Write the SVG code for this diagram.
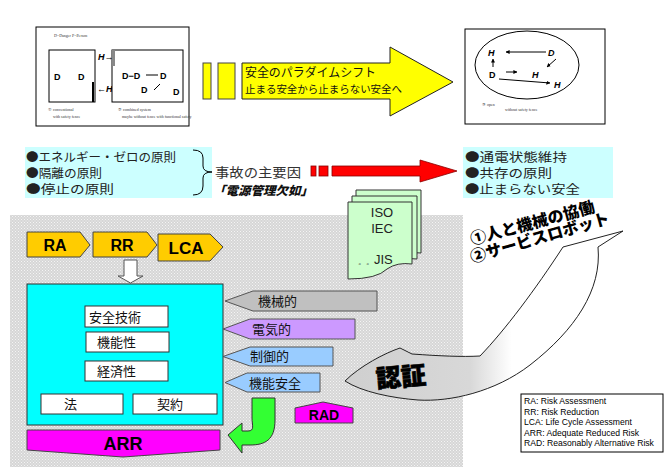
<svg xmlns="http://www.w3.org/2000/svg" width="671" height="467" viewBox="0 0 671 467">
<defs>
<pattern id="dots" width="3" height="3" patternUnits="userSpaceOnUse">
<rect width="3" height="3" fill="#d6d6d6"/>
<rect x="0" y="0" width="1" height="1" fill="#f4f4f4"/>
<rect x="1.5" y="1.5" width="1" height="1" fill="#f4f4f4"/>
</pattern>
<linearGradient id="certg" x1="0" y1="0" x2="1" y2="0">
<stop offset="0" stop-color="#cfcfcf"/>
<stop offset="0.45" stop-color="#d8d8d8"/>
<stop offset="0.6" stop-color="#ffffff"/>
</linearGradient>
<marker id="ah" viewBox="0 0 10 10" refX="9" refY="5" markerWidth="4" markerHeight="4" orient="auto">
<path d="M0,0 L10,5 L0,10 Z" fill="#000"/>
</marker>
<style>
.jp{font-family:"Noto Sans CJK JP","Noto Sans CJK SC",sans-serif;}
.ar{font-family:"Liberation Sans",Arial,sans-serif;}
.tiny{font-family:"Liberation Serif",serif;font-size:4px;fill:#333;}
.dh{font-family:"Liberation Sans",Arial,sans-serif;font-size:9px;font-weight:bold;}
.hi{font-family:"Liberation Sans",Arial,sans-serif;font-size:9px;font-weight:bold;font-style:italic;}
.ln{stroke:#000;stroke-width:1;fill:none;}
.box{fill:#fff;stroke:#000;stroke-width:1;}
.cy{fill:#ccffff;}
.li{font-size:12px;fill:#222;}
.wb{fill:#fff;stroke:#333;stroke-width:1;}
.wt{font-size:13px;fill:#111;}
.lg{font-size:8.6px;fill:#000;}
</style>
</defs>
<rect x="0" y="0" width="671" height="467" fill="#fff"/>
<!-- gray dotted region -->
<rect x="10" y="215" width="453" height="252" fill="url(#dots)"/>

<!-- top-left figure -->
<g id="fig-conventional">
<rect class="box" x="36" y="27" width="153" height="99"/>
<text class="tiny" x="54" y="37">D=Danger    P=Person</text>
<rect class="box" x="49" y="50" width="46" height="52"/>
<text class="dh" x="54" y="80">D</text>
<text class="dh" x="78" y="80">D</text>
<rect x="92" y="82" width="2" height="20" fill="#000"/>
<text class="hi" x="98" y="60">H→</text>
<text class="hi" x="97" y="92">←H</text>
<rect class="box" x="112" y="50" width="71" height="52"/>
<rect x="112" y="50" width="3" height="16" fill="#888"/>
<text class="dh" x="122" y="79">D−D</text>
<line class="ln" x1="146" y1="75" x2="158" y2="75"/>
<text class="dh" x="160" y="79">D</text>
<text class="dh" x="141" y="93">D</text>
<line class="ln" x1="154" y1="90" x2="160" y2="84"/>
<text class="dh" x="173" y="95">D</text>
<text class="tiny" x="48" y="111">① conventional</text>
<text class="tiny" x="53" y="118">with safety fence</text>
<text class="tiny" x="118" y="111">② combined system</text>
<text class="tiny" x="122" y="118">maybe without fence with functional safety</text>
</g>

<!-- yellow arrow -->
<g id="paradigm-arrow">
<rect x="203" y="63" width="8" height="36" fill="#ffff00" stroke="#444" stroke-width="1"/>
<rect x="218" y="63" width="17" height="36" fill="#ffff00" stroke="#444" stroke-width="1"/>
<path d="M242,63 L390,63 L390,47 L453,82 L390,116 L390,99 L242,99 Z" fill="#ffff00" stroke="#222" stroke-width="1"/>
<text class="jp" x="245" y="77" font-size="12" fill="#111" textLength="131" lengthAdjust="spacingAndGlyphs">安全のパラダイムシフト</text>
<text class="jp" x="245" y="93" font-size="10.5" fill="#111" textLength="157" lengthAdjust="spacingAndGlyphs">止まる安全から止まらない安全へ</text>
</g>

<!-- top-right figure -->
<g id="fig-open">
<rect class="box" x="465" y="29" width="140" height="95"/>
<ellipse cx="527" cy="65" rx="52" ry="34" class="ln"/>
<text class="hi" x="488" y="56">H</text>
<text class="hi" x="548" y="56">D</text>
<line class="ln" x1="546" y1="52" x2="506" y2="52" marker-end="url(#ah)"/>
<line class="ln" x1="493" y1="67" x2="493" y2="59" marker-end="url(#ah)"/>
<text class="dh" x="489" y="78">D</text>
<line class="ln" x1="506" y1="72" x2="517" y2="72" marker-end="url(#ah)"/>
<text class="hi" x="532" y="78">H</text>
<line class="ln" x1="556" y1="59" x2="547" y2="67" marker-end="url(#ah)"/>
<line class="ln" x1="499" y1="79" x2="550" y2="83" marker-end="url(#ah)"/>
<text class="hi" x="554" y="88">H</text>
<text class="tiny" x="482" y="106">③ open</text>
<text class="tiny" x="505" y="111">without safety fence</text>
</g>

<!-- principles left -->
<g id="principles-left">
<rect class="cy" x="25" y="147" width="187" height="51"/>
<text class="jp li" x="26" y="162" textLength="150" lengthAdjust="spacingAndGlyphs">●エネルギー・ゼロの原則</text>
<text class="jp li" x="26" y="178" textLength="76" lengthAdjust="spacingAndGlyphs">●隔離の原則</text>
<text class="jp li" x="26" y="194" textLength="88" lengthAdjust="spacingAndGlyphs">●停止の原則</text>
<path d="M193,150 Q203,150 203,158 L203,166 Q203,172 212,172 Q203,172 203,178 L203,186 Q203,195 193,195" class="ln" stroke="#333"/>
<text class="jp" x="215" y="177" font-size="13" fill="#333" textLength="86" lengthAdjust="spacingAndGlyphs">事故の主要因</text>
<text class="jp" x="213" y="195" font-size="12" font-weight="900" font-style="italic" fill="#111" textLength="100" lengthAdjust="spacingAndGlyphs">「電源管理欠如」</text>
</g>

<!-- red arrow -->
<g id="red-arrow">
<rect x="311" y="166" width="5" height="10" fill="#ff0000" stroke="#800" stroke-width="0.8"/>
<rect x="319" y="166" width="9" height="10" fill="#ff0000" stroke="#800" stroke-width="0.8"/>
<path d="M332,166 L420,166 L420,160 L457,171 L420,182 L420,176 L332,176 Z" fill="#ff0000" stroke="#800" stroke-width="0.8"/>
</g>

<!-- principles right -->
<g id="principles-right">
<rect class="cy" x="463" y="147" width="150" height="51"/>
<text class="jp li" x="465" y="162" textLength="102" lengthAdjust="spacingAndGlyphs">●通電状態維持</text>
<text class="jp li" x="465" y="178" textLength="87" lengthAdjust="spacingAndGlyphs">●共存の原則</text>
<text class="jp li" x="465" y="194" textLength="115" lengthAdjust="spacingAndGlyphs">●止まらない安全</text>
</g>

<!-- standards -->
<g id="standards">
<path d="M356,190 L421,190 L421,253 Q405,251 395,258 Q385,268 356,268 Z" fill="#ccffcc" stroke="#333" stroke-width="1"/>
<path d="M352,196 L417,196 L417,259 Q401,257 391,264 Q381,274 352,274 Z" fill="#ccffcc" stroke="#333" stroke-width="1"/>
<path d="M348,202 L412,202 L412,264 Q397,262 387,269 Q377,279 348,279 Z" fill="#ccffcc" stroke="#333" stroke-width="1"/>
<text class="ar" x="382" y="217" font-size="13" text-anchor="middle" fill="#222">ISO</text>
<text class="ar" x="382" y="233" font-size="13" text-anchor="middle" fill="#222">IEC</text>
<text class="ar" x="358" y="264" font-size="13" fill="#222"><tspan font-size="8">。。</tspan>JIS</text>
</g>

<!-- certification arrow -->
<g id="certification">
<path d="M345,381 C360,366 385,353 400,348 L412,354 C440,356 462,357 480,356 C505,330 535,290 563,247 L623,231 L598,247 C602,290 575,330 530,365 C495,392 450,402 418,400 C392,398 362,392 345,381 Z" fill="url(#certg)" stroke="#222" stroke-width="1"/>
<text class="jp" x="376" y="386" font-size="25" font-weight="900" fill="#000" stroke="#000" stroke-width="0.6" transform="rotate(-5 400 378)">認証</text>
</g>

<!-- collaboration text -->
<g id="collab-text">
<text class="jp" x="472" y="245" font-size="16" font-weight="900" fill="#000" transform="rotate(-15 472 245)">①人と機械の協働</text>
<text class="jp" x="472" y="263" font-size="16" font-weight="900" fill="#000" transform="rotate(-16 472 263)">②サービスロボット</text>
</g>

<!-- RA RR LCA -->
<g id="ra">
<path d="M27,232 L80,232 L90,245 L80,257 L27,257 Z" fill="#ffcc00" stroke="#444" stroke-width="1"/>
<text class="ar" x="55" y="251" font-size="16" font-weight="bold" text-anchor="middle">RA</text>
</g>
<g id="rr">
<path d="M93,232 L147,232 L157,245 L147,257 L93,257 Z" fill="#ffcc00" stroke="#444" stroke-width="1"/>
<text class="ar" x="122" y="251" font-size="16" font-weight="bold" text-anchor="middle">RR</text>
</g>
<g id="lca">
<path d="M158,234 L210,234 L223,247 L210,261 L158,261 Z" fill="#ffcc00" stroke="#444" stroke-width="1"/>
<text class="ar" x="186" y="254" font-size="17" font-weight="bold" text-anchor="middle">LCA</text>
</g>
<g id="down-arrow">
<path d="M124,260 L137,260 L137,276 L143,276 L130.5,283 L118,276 L124,276 Z" fill="#fff" stroke="#555" stroke-width="1"/>
</g>

<!-- main cyan box -->
<g id="measures">
<rect x="27" y="284" width="196" height="141" fill="#00ffff" stroke="#333" stroke-width="1"/>
<rect class="wb" x="85" y="306" width="83" height="21"/>
<text class="jp wt" x="89" y="322">安全技術</text>
<rect class="wb" x="86" y="332" width="83" height="20"/>
<text class="jp wt" x="97" y="347">機能性</text>
<rect class="wb" x="85" y="361" width="83" height="20"/>
<text class="jp wt" x="97" y="376">経済性</text>
<rect class="wb" x="41" y="394" width="82" height="20"/>
<text class="jp wt" x="64" y="409">法</text>
<rect class="wb" x="133" y="394" width="84" height="20"/>
<text class="jp wt" x="157" y="409">契約</text>
</g>

<!-- ARR -->
<g id="arr">
<path d="M27,430 L220,430 L220,450 L123,457 L27,450 Z" fill="#ff00ff" stroke="#444" stroke-width="1"/>
<text class="ar" x="123" y="450" font-size="18" font-weight="bold" text-anchor="middle">ARR</text>
</g>

<!-- left-pointing arrows -->
<g id="mechanical">
<path d="M377,291 L253,291 L225,301 L253,311 L377,311 Z" fill="#c0c0c0" stroke="#555" stroke-width="1"/>
<text class="jp wt" x="258" y="306">機械的</text>
</g>
<g id="electrical">
<path d="M355,319 L250,319 L223,329 L250,339 L355,339 Z" fill="#cc99ff" stroke="#555" stroke-width="1"/>
<text class="jp wt" x="252" y="334">電気的</text>
</g>
<g id="control">
<path d="M333,347 L250,347 L223,356.5 L250,366 L333,366 Z" fill="#99ccff" stroke="#555" stroke-width="1"/>
<text class="jp wt" x="250" y="361">制御的</text>
</g>
<g id="functional-safety">
<path d="M320,373 L247,373 L225,382.5 L247,392 L320,392 Z" fill="#99ccff" stroke="#555" stroke-width="1"/>
<text class="jp wt" x="249" y="388">機能安全</text>
</g>

<!-- green curved arrow -->
<g id="green-arrow">
<path d="M252,398 L275,398 L275,420 C275,440 265,445 250,445 L242,445 L242,453 L228,435 L242,423 L242,431 L248,431 C255,431 252,425 252,418 Z" fill="#33ff33" stroke="#333" stroke-width="1"/>
</g>

<!-- RAD -->
<g id="rad">
<path d="M295,408 L323,402 L353,408 L353,423 L295,423 Z" fill="#ff00ff" stroke="#444" stroke-width="1"/>
<text class="ar" x="324" y="420" font-size="14" font-weight="bold" text-anchor="middle">RAD</text>
</g>

<!-- legend -->
<g id="legend">
<rect x="521" y="394" width="142" height="58" fill="#fff" stroke="#000" stroke-width="1"/>
<text class="ar lg" x="524" y="404">RA:   Risk Assessment</text>
<text class="ar lg" x="524" y="414.5">RR:   Risk Reduction</text>
<text class="ar lg" x="524" y="425">LCA: Life Cycle Assessment</text>
<text class="ar lg" x="524" y="435.5">ARR: Adequate Reduced Risk</text>
<text class="ar lg" x="524" y="446">RAD: Reasonably Alternative Risk</text>
</g>
</svg>
